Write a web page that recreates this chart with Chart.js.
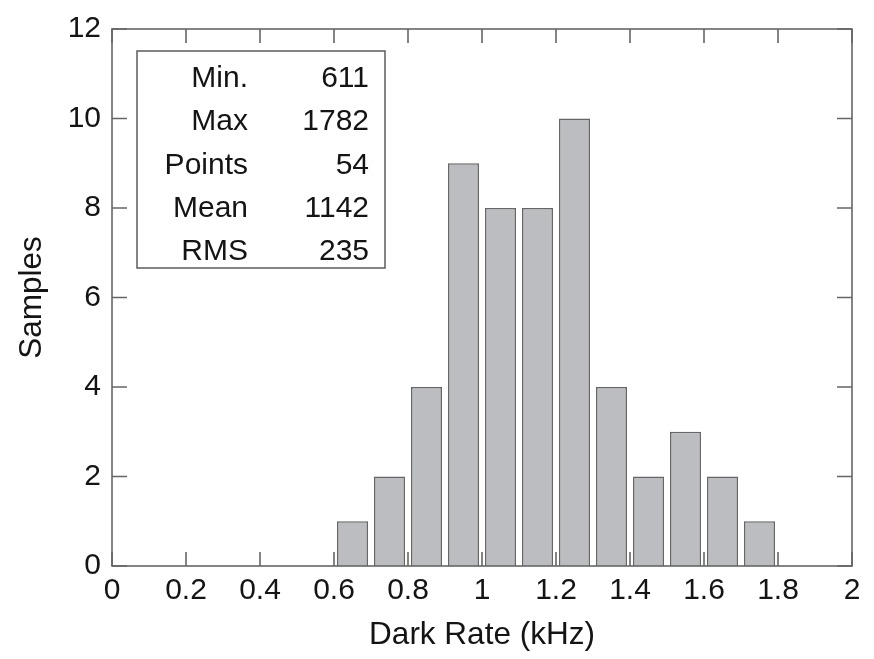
<!DOCTYPE html>
<html>
<head>
<meta charset="utf-8">
<script src="https://cdn.jsdelivr.net/npm/chart.js@4"></script>
<style>
  html, body { margin: 0; padding: 0; background: #fff; }
  #wrap { width: 874px; height: 659px; }
</style>
</head>
<body>
<div id="wrap"><canvas id="chart" width="874" height="659"></canvas></div>
<script>
// Histogram bins (kHz, bin centres) and counts
const binCenters = [0.65, 0.75, 0.85, 0.95, 1.05, 1.15, 1.25, 1.35, 1.45, 1.55, 1.65, 1.75];
const samples = [1, 2, 4, 9, 8, 8, 10, 4, 2, 3, 2, 1];
const xTicks = [0, 0.2, 0.4, 0.6, 0.8, 1, 1.2, 1.4, 1.6, 1.8, 2];
const yTicks = [0, 2, 4, 6, 8, 10, 12];

// statistics box
const statLabels = ["Min.", "Max", "Points", "Mean", "RMS"];
const statValues = ["611", "1782", "54", "1142", "235"];

const FONT = "'Liberation Sans', Arial, Helvetica, sans-serif";
const textColor = "#141414";
const frameColor = "#666666";

// inward ticks on all four sides plus the frame
const frameTicks = {
  id: "frameTicks",
  afterDraw(chart) {
    const { ctx, chartArea: a, scales: { x, y } } = chart;
    ctx.save();
    ctx.strokeStyle = frameColor;
    ctx.lineWidth = 1.6;
    ctx.strokeRect(a.left, a.top, a.right - a.left, a.bottom - a.top);
    ctx.beginPath();
    xTicks.forEach((v) => {
      const px = x.getPixelForValue(v);
      ctx.moveTo(px, a.bottom); ctx.lineTo(px, a.bottom - 14);
      ctx.moveTo(px, a.top); ctx.lineTo(px, a.top + 14);
    });
    yTicks.forEach((v) => {
      const py = y.getPixelForValue(v);
      ctx.moveTo(a.left, py); ctx.lineTo(a.left + 15, py);
      ctx.moveTo(a.right, py); ctx.lineTo(a.right - 15, py);
    });
    ctx.stroke();
    ctx.restore();
  },
};

const statsBox = {
  id: "statsBox",
  afterDraw(chart) {
    const { ctx, chartArea: a } = chart;
    const bx = a.left + 25, by = a.top + 22, bw = 248, bh = 217;
    ctx.save();
    ctx.fillStyle = "#fff";
    ctx.fillRect(bx, by, bw, bh);
    ctx.strokeStyle = frameColor;
    ctx.lineWidth = 1.6;
    ctx.strokeRect(bx, by, bw, bh);
    ctx.font = "30px " + FONT;
    ctx.fillStyle = textColor;
    ctx.textAlign = "right";
    ctx.textBaseline = "alphabetic";
    statLabels.forEach((lab, i) => {
      const base = by + 36 + i * 43.3;
      ctx.fillText(lab, bx + 111, base);
      ctx.fillText(statValues[i], bx + 232, base);
    });
    ctx.restore();
  },
};

new Chart(document.getElementById("chart"), {
  type: "bar",
  data: {
    datasets: [{
      label: "Samples",
      data: binCenters.map((c, i) => ({ x: c, y: samples[i] })),
      backgroundColor: "#bcbdc1",
      borderColor: "#666666",
      borderWidth: 1.6,
      borderSkipped: "bottom",
      barPercentage: 0.84,
      categoryPercentage: 1,
    }],
  },
  options: {
    responsive: false,
    animation: false,
    layout: { padding: { left: 0, top: 16, right: 22, bottom: 0 } },
    plugins: { legend: { display: false }, tooltip: { enabled: false } },
    scales: {
      x: {
        type: "linear",
        min: 0,
        max: 2,
        offset: false,
        afterBuildTicks: (s) => { s.ticks = xTicks.map((v) => ({ value: v })); },
        afterFit: (s) => { s.height = 93; },
        grid: { display: false, drawTicks: false },
        border: { display: false },
        ticks: {
          color: textColor,
          font: { family: FONT, size: 30 },
          padding: 7,
          maxRotation: 0,
          callback: (v) => String(v),
        },
        title: {
          display: true,
          text: "Dark Rate (kHz)",
          color: textColor,
          font: { family: FONT, size: 31.5 },
          padding: { top: 0, bottom: 5 },
        },
      },
      y: {
        min: 0,
        max: 12,
        afterBuildTicks: (s) => { s.ticks = yTicks.map((v) => ({ value: v })); },
        afterFit: (s) => { s.width = 112; },
        grid: { display: false, drawTicks: false },
        border: { display: false },
        ticks: {
          color: textColor,
          font: { family: FONT, size: 30 },
          padding: 11,
        },
        title: {
          display: true,
          text: "Samples",
          color: textColor,
          font: { family: FONT, size: 31.5 },
          padding: { top: 13, bottom: 0 },
        },
      },
    },
  },
  plugins: [frameTicks, statsBox],
});
</script>
</body>
</html>
